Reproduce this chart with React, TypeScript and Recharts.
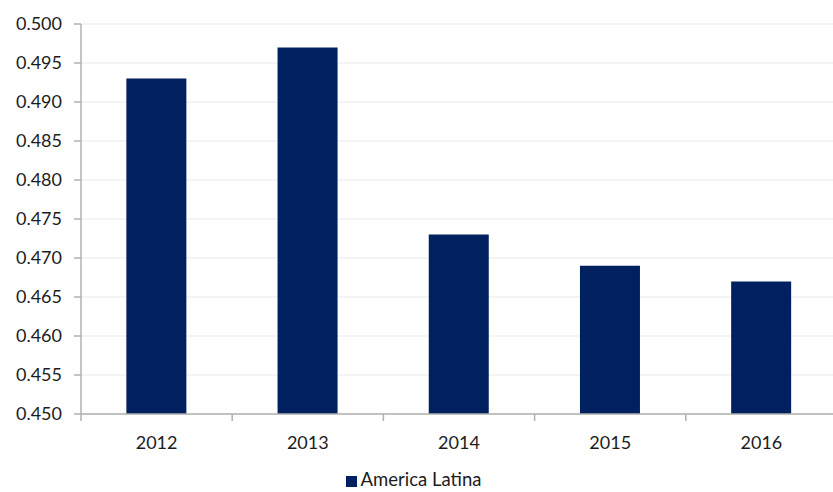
import React from 'react';
import { BarChart, Bar, XAxis, YAxis, CartesianGrid, Legend } from 'recharts';

const categories = ['2012', '2013', '2014', '2015', '2016'];
const values = [0.493, 0.497, 0.473, 0.469, 0.467];
const yTicks = [0.45, 0.455, 0.46, 0.465, 0.47, 0.475, 0.48, 0.485, 0.49, 0.495, 0.5];
const boundaryTicks = [0, 1, 2, 3, 4, 5];
const seriesName = 'America Latina';

const data = categories.map((c, i) => ({ year: c, idx: i + 0.5, value: values[i] }));

const FONT = 'Lato, "Open Sans", sans-serif';
const AXIS = '#b0b0b0';
const TEXT = '#1c1c1c';

export default function App() {
  return (
    <div style={{ position: 'absolute', left: 0, top: 0, width: 833, height: 492, background: '#fff', overflow: 'hidden' }}>
      <BarChart
        width={833}
        height={492}
        data={data}
        margin={{ top: 24, right: -4, left: 0, bottom: 0 }}
        barCategoryGap="30%"
        style={{ fontFamily: FONT }}
      >
        <CartesianGrid xAxisId="labels" vertical={false} stroke="#f0f0f0" strokeWidth={1.5} />
        <XAxis
          xAxisId={0}
          dataKey="idx"
          type="number"
          domain={[0, 5]}
          ticks={boundaryTicks}
          interval={0}
          allowDataOverflow
          height={1}
          tickFormatter={() => ''}
          tick={{ fontSize: 1 }}
          tickSize={7}
          tickLine={{ stroke: AXIS, strokeWidth: 1.5 }}
          axisLine={{ stroke: AXIS, strokeWidth: 1.5 }}
        />
        <XAxis
          xAxisId="labels"
          dataKey="year"
          height={53}
          axisLine={false}
          tickLine={false}
          tickSize={0}
          tickMargin={21}
          tick={{ fill: TEXT, fontSize: 18, fontFamily: FONT }}
        />
        <YAxis
          domain={[0.45, 0.5]}
          ticks={yTicks}
          allowDataOverflow
          width={81}
          tickSize={7}
          tickMargin={12}
          tickFormatter={(v: number) => v.toFixed(3)}
          tick={{ fill: TEXT, fontSize: 18, fontFamily: FONT }}
          tickLine={{ stroke: AXIS, strokeWidth: 1.5 }}
          axisLine={{ stroke: AXIS, strokeWidth: 1.5 }}
        />
        <Legend
          verticalAlign="bottom"
          align="center"
          height={24}
          iconType="square"
          iconSize={11}
          formatter={(v: string) => <span style={{ color: TEXT, fontSize: 18.5, fontFamily: FONT }}>{v}</span>}
        />
        <Bar xAxisId="labels" dataKey="value" name={seriesName} fill="#002060" isAnimationActive={false} />
      </BarChart>
    </div>
  );
}
